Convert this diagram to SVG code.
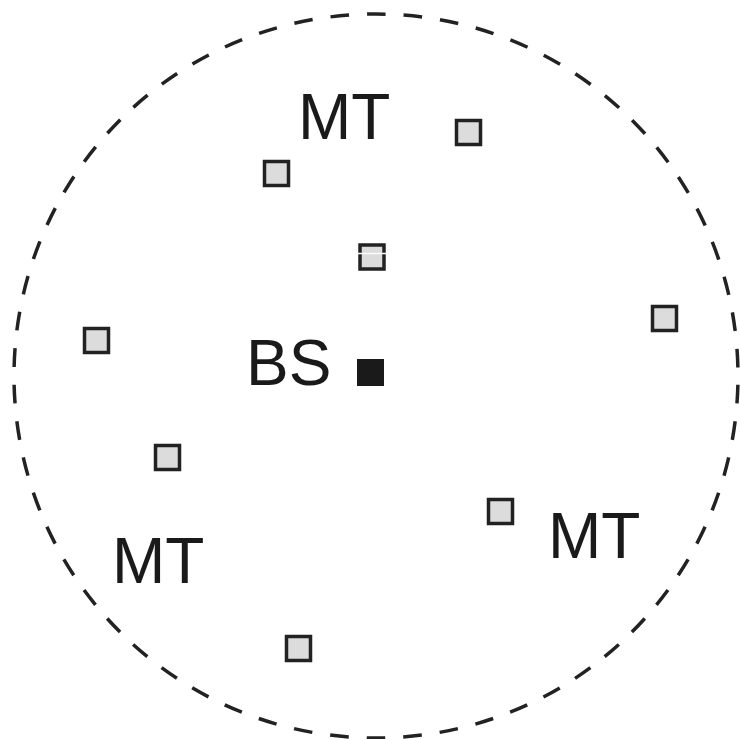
<svg xmlns="http://www.w3.org/2000/svg" width="740" height="739" viewBox="0 0 740 739">
<style>
.mt{fill:#dcdcdc;stroke:#222;stroke-width:3.5}
.lbl{font-family:"Liberation Sans",Arial,sans-serif;font-size:64px;fill:#1a1a1a}
</style>
<rect width="740" height="739" fill="#fff"/>
<circle id="cell" cx="376" cy="376" r="362" fill="none" stroke="#222" stroke-width="3.5" stroke-dasharray="18.7 17.98" stroke-dashoffset="-8.87"/>
<g id="bs"><rect x="357" y="359" width="27" height="27" fill="#1a1a1a"/></g>
<g id="mt1"><rect class="mt" x="264.5" y="161.5" width="24" height="24"/></g>
<g id="mt2"><rect class="mt" x="360" y="245" width="24" height="24"/><line x1="357" y1="253.5" x2="388" y2="253.5" stroke="#fff" stroke-width="1.5"/></g>
<g id="mt3"><rect class="mt" x="456.5" y="120.5" width="24" height="24"/></g>
<g id="mt4"><rect class="mt" x="84.5" y="328.5" width="24" height="24"/></g>
<g id="mt5"><rect class="mt" x="652.5" y="306.5" width="24" height="24"/></g>
<g id="mt6"><rect class="mt" x="155.5" y="445.5" width="24" height="24"/></g>
<g id="mt7"><rect class="mt" x="488.5" y="499.5" width="24" height="24"/></g>
<g id="mt8"><rect class="mt" x="286.5" y="636.5" width="24" height="24"/></g>
<text class="lbl" x="298" y="139">MT</text>
<text class="lbl" x="246" y="385">BS</text>
<text class="lbl" x="112" y="583">MT</text>
<text class="lbl" x="548" y="558">MT</text>
</svg>
